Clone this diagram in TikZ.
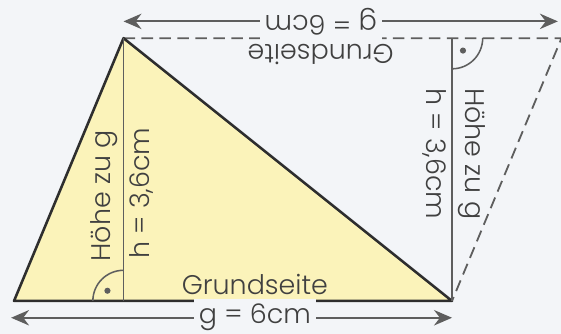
\documentclass[tikz,border=0pt]{standalone}
\usepackage{fontspec}
\setmainfont{Poppins}[UprightFont=* Light]
\usepackage{xcolor}
\definecolor{hintergrund}{HTML}{F3F5F8}
\definecolor{flaeche}{HTML}{FBF3BA}
\definecolor{linie}{HTML}{2E2E2E}
\definecolor{hilfslinie}{HTML}{5E5E5E}
\definecolor{schrift}{HTML}{404040}
\usetikzlibrary{arrows.meta}
\tikzstyle{dreieck} = [draw=linie, line width=1pt, fill=flaeche, line join=round]
\tikzstyle{hoehe} = [draw=hilfslinie, line width=0.6pt]
\tikzstyle{ergaenzung} = [draw=hilfslinie, line width=0.7pt, dash pattern=on 4.5pt off 2.5pt]
\tikzstyle{masspfeil} = [draw=hilfslinie, line width=0.8pt, {Stealth[length=7pt,width=6pt]}-{Stealth[length=7pt,width=6pt]}]
\tikzstyle{beschriftung} = [text=schrift, font=\fontsize{10.5}{12}\selectfont, inner sep=2pt]
\tikzstyle{winkel} = [draw=hilfslinie, line width=0.6pt]

\begin{document}
\begin{tikzpicture}
\fill[hintergrund] (-0.192,-0.452) rectangle (7.493,4.123);
\useasboundingbox (-0.192,-0.452) rectangle (7.493,4.123);

\coordinate (A) at (0,0);
\coordinate (B) at (6,0);
\coordinate (C) at (1.5,3.6);
\coordinate (D) at (7.5,3.6);
\coordinate (F1) at (1.5,0);
\coordinate (F2) at (6,3.6);

% Ergaenzung zum Parallelogramm
\draw[ergaenzung] (C) -- (D) node[beschriftung, pos=.45, rotate=180, anchor=south] {Grundseite} -- (B);

\draw[dreieck] (A) -- (B) node[beschriftung, pos=.55, anchor=south] {Grundseite} -- (C) -- cycle;

% Hoehen
\draw[hoehe] (C) -- (F1) node[beschriftung, pos=.6, rotate=90, anchor=south] {Höhe zu g} node[beschriftung, pos=.59, rotate=90, anchor=north] {h = 3,6cm};
\draw[hoehe] (F2) -- (B) node[beschriftung, pos=.44, rotate=-90, anchor=south] {Höhe zu g} node[beschriftung, pos=.44, rotate=-90, anchor=north] {h = 3,6cm};

% rechte Winkel
\draw[winkel] (F1) ++(-0.42,0) arc[start angle=180, end angle=90, radius=0.42];
\fill[hilfslinie] (F1) ++(-0.22,0.14) circle (1.2pt);
\draw[winkel] (F2) ++(0.42,0) arc[start angle=0, end angle=-90, radius=0.42];
\fill[hilfslinie] (F2) ++(0.15,-0.17) circle (1.2pt);

% Masspfeile
\coordinate (u1) at (-0.04,-0.23);
\coordinate (u2) at (6,-0.23);
\draw[masspfeil] (u1) -- (u2) node[beschriftung, pos=.553, fill=hintergrund] {g = 6cm};
\coordinate (o1) at (1.5,3.83);
\coordinate (o2) at (7.45,3.83);
\draw[masspfeil] (o1) -- (o2) node[beschriftung, pos=.454, rotate=180, fill=hintergrund] {g = 6cm};

\end{tikzpicture}
\end{document}
